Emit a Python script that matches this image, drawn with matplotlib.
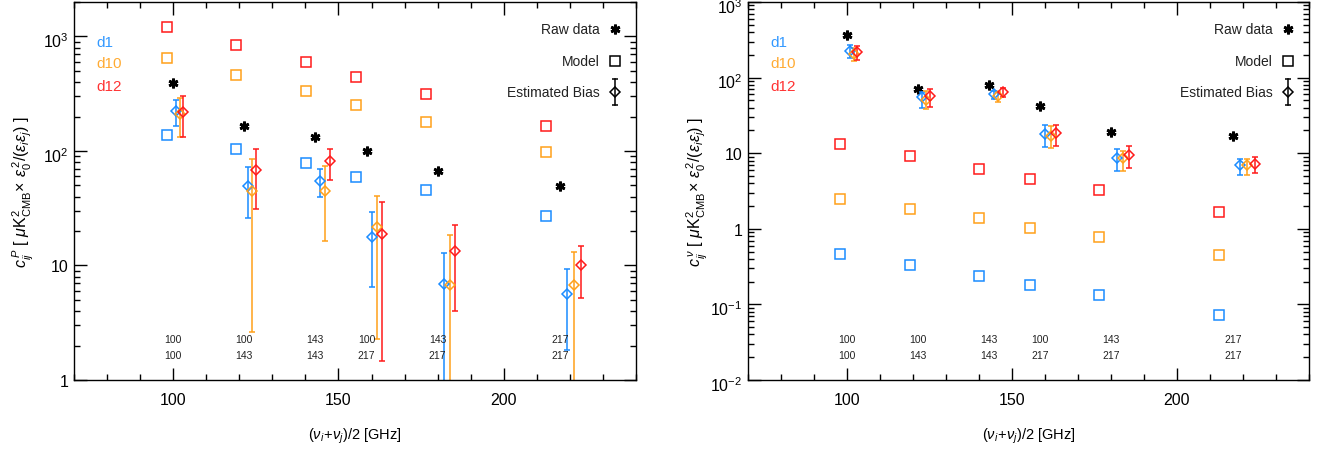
import matplotlib
matplotlib.use("Agg")
import matplotlib.pyplot as plt
import matplotlib.ticker as mticker
import matplotlib.transforms as mtrans
import numpy as np

plt.rcParams['font.family'] = ['Liberation Sans', 'DejaVu Sans']
plt.rcParams['mathtext.fontset'] = 'custom'
plt.rcParams['mathtext.rm'] = 'Liberation Sans'
plt.rcParams['mathtext.it'] = 'Liberation Sans:italic'
plt.rcParams['mathtext.bf'] = 'Liberation Sans:bold'

# ---------------- data ----------------
freqs = [100, 121.5, 143, 158.5, 180, 217]
pair_top = ["100", "100", "143", "100", "143", "217"]
pair_bot = ["100", "143", "143", "217", "217", "217"]
models = ["d1", "d10", "d12"]

# Left panel (P)
model_P_d1 = [137, 103.5, 78.6, 59.7, 45.6, 27.1]
model_P_d10 = [645, 464, 334, 251, 180, 98]
model_P_d12 = [1203, 843, 595, 443, 313, 164]
raw_P = [395, 165, 132, 99.4, 66.9, 49.5]
bias_P_d1 = [222, 49.5, 54.7, 17.9, 6.9, 5.6]
bias_P_d1_hi = [279, 72.5, 69.6, 29.5, 12.9, 9.3]
bias_P_d1_lo = [166, 26.2, 39.7, 6.45, 0.5, 1.82]
bias_P_d10 = [210, 44.5, 45, 21.7, 6.8, 6.76]
bias_P_d10_hi = [290, 85.7, 74.4, 40.7, 18.4, 13.0]
bias_P_d10_lo = [133, 2.6, 16.5, 2.28, 0.5, 0.5]
bias_P_d12 = [218, 68.2, 81.3, 18.7, 13.4, 10.0]
bias_P_d12_hi = [304, 104.7, 104.7, 36.1, 22.6, 14.9]
bias_P_d12_lo = [133, 31.1, 55.8, 1.47, 4.03, 5.17]

# Right panel (nu)
model_n_d1 = [0.465, 0.332, 0.24, 0.179, 0.132, 0.073]
model_n_d10 = [2.48, 1.83, 1.38, 1.03, 0.773, 0.446]
model_n_d12 = [13.1, 9.1, 6.24, 4.6, 3.23, 1.68]
raw_n = [366, 70.7, 79, 41.7, 19.3, 17.0]
bias_n_d1 = [223, 54.8, 60, 18.1, 8.57, 6.98]
bias_n_d1_hi = [272, 63.9, 67, 23.8, 11.3, 8.38]
bias_n_d1_lo = [180, 39.6, 52, 12.0, 5.77, 5.2]
bias_n_d10 = [205, 50.6, 56.5, 17.0, 8.57, 6.98]
bias_n_d10_hi = [244, 67, 64, 23.1, 10.8, 8.38]
bias_n_d10_lo = [164, 38.5, 48, 11.6, 5.88, 5.2]
bias_n_d12 = [220, 56.5, 63.8, 18.3, 9.46, 7.19]
bias_n_d12_hi = [264, 70.7, 72.8, 23.8, 12.3, 8.8]
bias_n_d12_lo = [171, 40.5, 54.8, 12.4, 6.43, 5.47]

colors = ['#1a8cff', '#ffa01a', '#ff1a1a']
label_colors = ['#3399ff', '#ffab33', '#ff3333']
square_shift = 0.98
diamond_shift = [1.01, 1.02, 1.03]

W, H = 1320, 452
fig = plt.figure(figsize=(W / 100, H / 100), dpi=100)

def fmt_log(v, pos):
    e = int(round(np.log10(v)))
    if e == 0:
        return '1'
    if e == 1:
        return '10'
    return r'$\mathregular{10^{%d}}$' % e

def setup(ax, ylo, yhi, ylabel):
    ax.set_yscale('log')
    ax.set_xlim(70, 240)
    ax.set_ylim(ylo, yhi)
    ax.xaxis.set_major_locator(mticker.FixedLocator([100, 150, 200]))
    ax.xaxis.set_minor_locator(mticker.MultipleLocator(10))
    decades = [10.0 ** e for e in range(int(np.log10(ylo)), int(np.log10(yhi)) + 1)]
    ax.yaxis.set_major_locator(mticker.FixedLocator(decades))
    ax.yaxis.set_minor_locator(mticker.LogLocator(base=10, subs=np.arange(2, 10), numticks=20))
    ax.yaxis.set_minor_formatter(mticker.NullFormatter())
    ax.yaxis.set_major_formatter(mticker.FuncFormatter(fmt_log))
    ax.tick_params(which='both', direction='in', top=True, right=True, width=1.0, color='black')
    ax.tick_params(which='major', length=9, labelsize=11.5)
    ax.tick_params(which='minor', length=4.5)
    ax.tick_params(axis='x', which='major', pad=9)
    ax.tick_params(axis='y', which='major', pad=4)
    for s in ax.spines.values():
        s.set_linewidth(1.0)
    ax.set_xlabel(r'$(\nu_i\!+\!\nu_j)$/2 [GHz]', fontsize=10.5)
    ax.xaxis.set_label_coords(0.5, -0.12)
    ax.set_ylabel(ylabel, fontsize=11.5)
    ax.yaxis.set_label_coords(-0.068, 0.5)

def draw(ax, mods, raw, biases):
    # model squares
    for c, m in zip(colors, mods):
        ax.plot(np.array(freqs) * square_shift, m, linestyle='none', marker='s',
                ms=6.5, mfc='none', mec=c, mew=1.1)
    # raw data
    ax.plot(freqs, raw, linestyle='none', marker=(6, 2, 0), ms=7, mec='black', mew=2.0)
    # estimated bias
    for c, k, (b, hi, lo) in zip(colors, diamond_shift, biases):
        b = np.array(b); hi = np.array(hi); lo = np.array(lo)
        ax.errorbar(np.array(freqs) * k, b, yerr=[b - lo, hi - b], fmt='D', ms=5,
                    mfc='none', mec=c, mew=1.1, ecolor=c, elinewidth=1.1,
                    capsize=2.5, capthick=1.1)
    # frequency pair labels
    tr = mtrans.blended_transform_factory(ax.transData, ax.transAxes)
    for f, t, bt in zip(freqs, pair_top, pair_bot):
        ax.text(f, 0.108, t, transform=tr, ha='center', va='center', fontsize=7.5, color='#222222')
        ax.text(f, 0.067, bt, transform=tr, ha='center', va='center', fontsize=7.5, color='#222222')
    # model names
    for i, (nm, lc) in enumerate(zip(models, label_colors)):
        ax.text(0.040, [0.895, 0.838, 0.779][i], nm, transform=ax.transAxes,
                ha='left', va='center', fontsize=11, color=lc)
    # legend (drawn manually to match layout)
    ty = [0.929, 0.845, 0.761]
    tx, sx = 0.936, 0.962
    for y, txt in zip(ty, ['Raw data', 'Model', 'Estimated Bias']):
        ax.text(tx, y, txt, transform=ax.transAxes, ha='right', va='center',
                fontsize=10, color='#222222')
    ax.plot([sx], [ty[0]], transform=ax.transAxes, marker=(6, 2, 0), ms=7,
            mec='black', mew=2.0, clip_on=False)
    ax.plot([sx], [ty[1]], transform=ax.transAxes, marker='s', ms=6.5, mfc='none',
            mec='black', mew=1.1, clip_on=False)
    ax.plot([sx], [ty[2]], transform=ax.transAxes, marker='D', ms=5, mfc='none',
            mec='black', mew=1.1, clip_on=False)
    ax.plot([sx, sx], [ty[2] - 0.034, ty[2] + 0.034], transform=ax.transAxes,
            color='black', lw=1.1, clip_on=False)
    for yy in (ty[2] - 0.034, ty[2] + 0.034):
        ax.plot([sx], [yy], transform=ax.transAxes, marker='_', ms=5, mew=1.1,
                color='black', clip_on=False)

axL = fig.add_axes([74 / W, (H - 381) / H, 562 / W, 378 / H])
axR = fig.add_axes([748 / W, (H - 381) / H, 561 / W, 378 / H])

setup(axL, 1, 2000,
      r'$c_{ij}^{\,P}$ [ $\mu$K$^2_{\rm CMB}\!\times\,\varepsilon_0^{\,2}/(\varepsilon_i\varepsilon_j)$ ]')
setup(axR, 0.01, 1000,
      r'$c_{ij}^{\,\nu}$ [ $\mu$K$^2_{\rm CMB}\!\times\,\varepsilon_0^{\,2}/(\varepsilon_i\varepsilon_j)$ ]')

draw(axL, [model_P_d1, model_P_d10, model_P_d12], raw_P,
     [(bias_P_d1, bias_P_d1_hi, bias_P_d1_lo),
      (bias_P_d10, bias_P_d10_hi, bias_P_d10_lo),
      (bias_P_d12, bias_P_d12_hi, bias_P_d12_lo)])
draw(axR, [model_n_d1, model_n_d10, model_n_d12], raw_n,
     [(bias_n_d1, bias_n_d1_hi, bias_n_d1_lo),
      (bias_n_d10, bias_n_d10_hi, bias_n_d10_lo),
      (bias_n_d12, bias_n_d12_hi, bias_n_d12_lo)])

# shift superscripted y tick labels slightly downward (IDL-like placement)
fig.canvas.draw()
off = mtrans.ScaledTranslation(0, -3 / 100, fig.dpi_scale_trans)
for ax in (axL, axR):
    for t in ax.yaxis.get_major_ticks():
        if '^' in t.label1.get_text():
            t.label1.set_transform(t.label1.get_transform() + off)

fig.savefig('out.png', dpi=100)
